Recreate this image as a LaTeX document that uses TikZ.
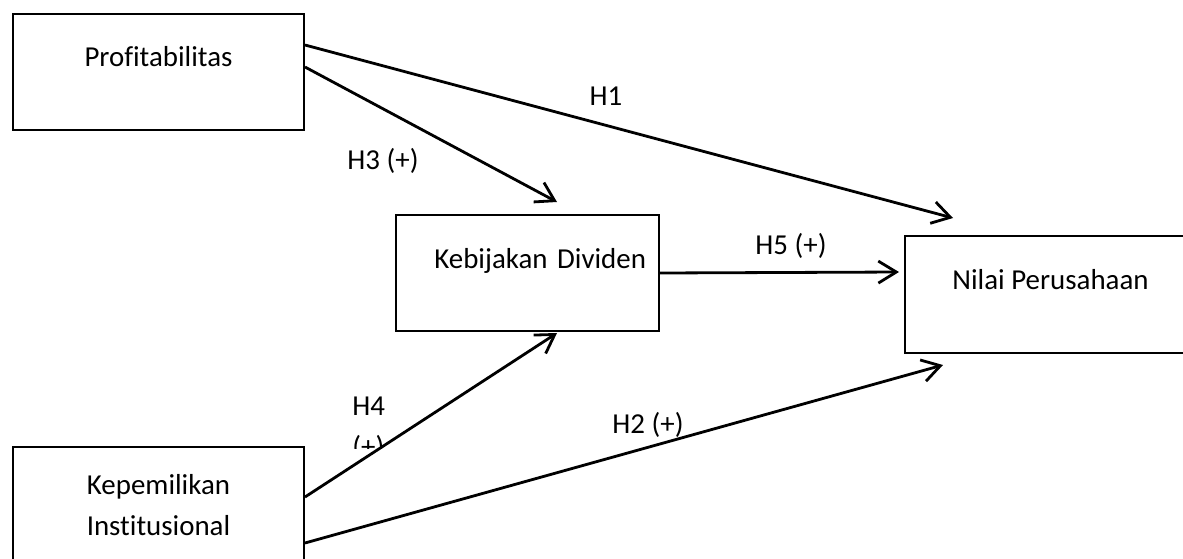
\documentclass[tikz,border=0pt]{standalone}
\usepackage{fontspec}
\setmainfont{Carlito}[Ligatures=NoCommon]
\usetikzlibrary{arrows.meta}
\tikzset{
  >={Straight Barb[length=9pt,width=11pt]},
  varbox/.style={draw,line width=1pt,inner xsep=0pt,inner ysep=0pt,anchor=north west,align=center},
  link/.style={line width=1.4pt,->},
  hyp/.style={inner sep=0pt}
}
\begin{document}
\begin{tikzpicture}[x=0.5pt,y=-0.5pt]
    \useasboundingbox (0,0) rectangle (1183,558);
    \clip (0,0) rectangle (1183,558);
    \fontsize{14.45}{20.5}\selectfont
    % boxes
    \node[varbox,minimum width=145.5pt,text height=26pt,text depth=32pt] (prof) at (12,13) {Profitabilitas};
    \node[varbox,inner xsep=6.5pt,text width=118.5pt,align=right,text height=26.5pt,text depth=31.5pt] (kebij) at (395,214) {Kebijakan Dividen};
    \node[varbox,minimum width=145.5pt,text height=26.5pt,text depth=32pt] (nilai) at (904,235) {Nilai Perusahaan};
    \node[varbox,minimum width=145.5pt,minimum height=58pt] (kepem) at (12,446) {Kepemilikan\\Institusional};
    % arrow tips
    \coordinate (h1tip) at (953,218);
    \coordinate (h3tip) at (557,202);
    \coordinate (h5tip) at (899,272);
    \coordinate (h4tip) at (557,333);
    \coordinate (h2tip) at (943,365);
    \draw[link] ([yshift=-16pt]prof.north east) -- (h1tip);
    \draw[link] ([yshift=-27pt]prof.north east) -- (h3tip);
    \draw[link] (kebij.east) -- (h5tip);
    \draw[link] ([yshift=-25.5pt]kepem.north east) -- (h4tip);
    \draw[link] ([yshift=-48.5pt]kepem.north east) -- (h2tip);
    % labels
    \node[hyp] (lh1) at (606,96) {H1};
    \node[hyp] (lh3) at (383,161) {H3 (+)};
    \node[hyp] (lh5) at (791,246) {H5 (+)};
    \node[hyp] (lh2) at (648,425) {H2 (+)};
    \begin{scope}
        \clip (330,380) rectangle (420,448);
        \node[hyp,align=left,anchor=north west] (lh4) at (352,397) {H4\\(+)};
    \end{scope}
\end{tikzpicture}
\end{document}
